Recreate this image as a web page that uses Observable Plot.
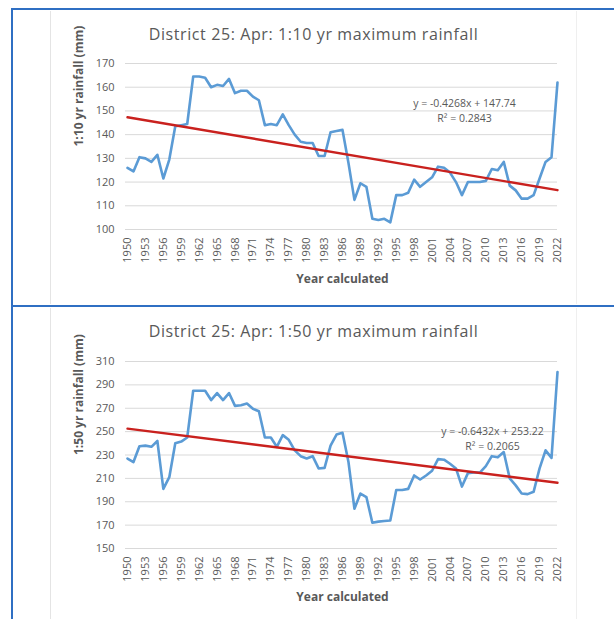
<!DOCTYPE html>
<html>
<head>
<meta charset="utf-8">
<script src="https://cdn.jsdelivr.net/npm/d3@7"></script>
<script src="https://cdn.jsdelivr.net/npm/@observablehq/plot@0.6"></script>
<style>
  html, body { margin: 0; padding: 0; background: #fff; }
  #page { position: relative; width: 614px; height: 619px; overflow: hidden; font-family: "Open Sans", sans-serif; }
  .rule { position: absolute; background: #2f6fc3; }
  .panel { position: absolute; left: 50px; width: 527px; border-left: 1px solid #e4e4e4; border-right: 1px solid #efefef; box-sizing: border-box; }
  .title { position: absolute; left: 50px; width: 527px; text-align: center; font-size: 16px; letter-spacing: 0.6px; color: #595959; line-height: 18px; }
  .chart { position: absolute; left: 50px; }
</style>
</head>
<body>
<div id="page"></div>
<script>
// Year calculated (category axis) and labelled ticks every third year
const years = d3.range(1950, 2023);
const yearTicks = d3.range(1950, 2023, 3);

// 1:10 year April maximum rainfall, District 25 (mm)
const rain10 = [
  126, 124.5, 130.5, 130, 128.5, 131.5, 121.5, 129.5, 143.5, 144,
  144.5, 164.5, 164.5, 164, 160, 161, 160.5, 163.5, 157.5, 158.5,
  158.5, 156, 154.5, 144, 144.5, 144, 148.5, 144, 140, 137,
  136.5, 136.5, 131, 131, 141, 141.5, 142, 128, 112.5, 119.5,
  118, 104.5, 104, 104.5, 103, 114.5, 114.5, 115.5, 121, 118,
  120, 122, 126.5, 126, 124, 120, 114.5, 120, 120, 120,
  120.5, 125.5, 125, 128.5, 118.5, 116.5, 113, 113, 114.5, 121.5,
  128.5, 130.5, 162
];
const yTicks10 = [100, 110, 120, 130, 140, 150, 160, 170];
const slope10 = -0.4268;
const intercept10 = 147.74;
const rsq10 = "0.2843";

// 1:50 year April maximum rainfall, District 25 (mm)
const rain50 = [
  227, 224, 237.5, 238, 237, 242, 201, 211, 240, 241.5,
  245, 285, 285, 285, 277, 283, 277, 283, 272, 272.5,
  274, 269.5, 267.5, 245, 245, 237, 247, 243, 234, 229,
  227, 229, 218.5, 219, 238, 247.5, 249, 224, 184, 197,
  194, 172, 173, 173.5, 174, 200, 200, 201, 212.5, 209,
  212.5, 216.5, 226.5, 226, 222.5, 218.5, 203, 214.5, 215, 215,
  220.5, 229, 228, 232.5, 210, 204, 197, 196.5, 198.5, 218.5,
  234, 227.5, 301
];
const yTicks50 = [150, 170, 190, 210, 230, 250, 270, 290, 310];
const slope50 = -0.6432;
const intercept50 = 253.22;
const rsq50 = "0.2065";

const page = document.getElementById("page");

function addBox(cls, css, text) {
  const el = document.createElement("div");
  el.className = cls;
  Object.assign(el.style, css);
  if (text) el.textContent = text;
  page.appendChild(el);
  return el;
}

// Table cell borders and chart picture edges
addBox("panel", {top: "11px", height: "293px"});
addBox("panel", {top: "308px", height: "311px"});
addBox("rule", {left: "11px", top: "8px", width: "603px", height: "2px"});
addBox("rule", {left: "11px", top: "8px", width: "2px", height: "611px"});
addBox("rule", {left: "11px", top: "305px", width: "603px", height: "2px"});

function rainChart({values, yTicks, slope, intercept, rsq, yLabel, top, height, marginTop, marginBottom, xLabelDy, eqDx, eqDy}) {
  const series = years.map((year, i) => ({year, value: values[i]}));
  // Excel linear trendline: x is the 1-based position of the year
  const trend = [years[0], years[years.length - 1]].map(year => ({year, value: intercept + slope * (year - years[0] + 1)}));
  const eq = `y = ${slope}x + ${intercept}`;
  const r2 = `R² = ${rsq}`;
  const chart = Plot.plot({
    width: 527,
    height,
    marginLeft: 77,
    marginRight: 20,
    marginTop,
    marginBottom,
    style: {fontFamily: "Open Sans, sans-serif", fontSize: "11px", color: "#595959", background: "transparent", overflow: "visible"},
    x: {domain: [years[0], years[years.length - 1]]},
    y: {domain: [yTicks[0], yTicks[yTicks.length - 1]]},
    marks: [
      Plot.ruleY(yTicks, {stroke: "#d9d9d9", strokeWidth: 1, insetLeft: -2}),
      Plot.axisY({ticks: yTicks, tickSize: 0, tickPadding: 13, label: null, fill: "#595959"}),
      Plot.axisX({ticks: yearTicks, tickFormat: d => `${d}`, tickRotate: -90, tickSize: 0, tickPadding: 8, label: null, fill: "#595959"}),
      Plot.line(series, {x: "year", y: "value", stroke: "#5b9bd5", strokeWidth: 2.6, strokeLinejoin: "round"}),
      Plot.line(trend, {x: "year", y: "value", stroke: "#c9211e", strokeWidth: 2.4}),
      Plot.text([eq], {frameAnchor: "top-right", dx: eqDx, dy: eqDy, textAnchor: "middle", fontSize: 10.5, fill: "#595959"}),
      Plot.text([r2], {frameAnchor: "top-right", dx: eqDx, dy: eqDy + 15, textAnchor: "middle", fontSize: 10.5, fill: "#595959"}),
      Plot.text(["Year calculated"], {frameAnchor: "bottom", dy: xLabelDy, fontSize: 12, fontWeight: "bold", fill: "#595959"}),
      Plot.text([yLabel], {frameAnchor: "left", dx: -48, rotate: -90, fontSize: 12, fontWeight: "bold", fill: "#595959"})
    ]
  });
  chart.classList.add("chart");
  chart.style.top = `${top}px`;
  page.appendChild(chart);
}

addBox("title", {top: "25px"}, "District 25: Apr: 1:10 yr maximum rainfall");
rainChart({values: rain10, yTicks: yTicks10, slope: slope10, intercept: intercept10, rsq: rsq10,
  yLabel: "1:10 yr rainfall (mm)", top: 50, height: 250, marginTop: 13, marginBottom: 71, xLabelDy: 53, eqDx: -93, eqDy: 36});

addBox("title", {top: "322px"}, "District 25: Apr: 1:50 yr maximum rainfall");
rainChart({values: rain50, yTicks: yTicks50, slope: slope50, intercept: intercept50, rsq: rsq50,
  yLabel: "1:50 yr rainfall (mm)", top: 348, height: 265, marginTop: 13, marginBottom: 65, xLabelDy: 52, eqDx: -65, eqDy: 66});
</script>
</body>
</html>
